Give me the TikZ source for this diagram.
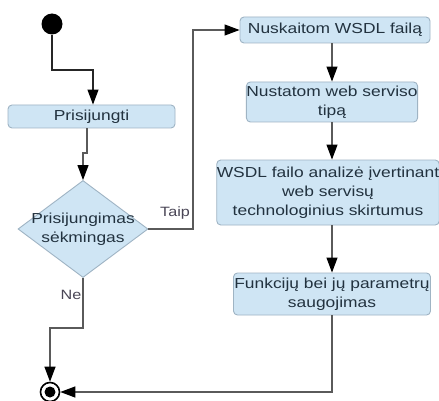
\documentclass[tikz,border=0pt]{standalone}
\usepackage{fontspec}
\setmainfont[FakeStretch=1.2]{Liberation Sans}
\usetikzlibrary{arrows.meta,shapes.geometric}
\definecolor{boxfill}{HTML}{CFE5F4}
\definecolor{boxline}{HTML}{9FB4C4}
\definecolor{txt}{HTML}{22323F}
\definecolor{wire}{HTML}{5A5A5A}
\definecolor{lbl}{HTML}{4A4656}
\begin{document}
\begin{tikzpicture}[x=1pt,y=-1pt,
  every node/.style={font=\fontsize{14.5}{19}\selectfont, text=txt},
  action/.style={draw=boxline, fill=boxfill, rounded corners=4pt, line width=0.9pt,
    align=center, inner sep=0pt},
  decision/.style={diamond, draw=boxline, fill=boxfill, line width=0.9pt, inner sep=0pt},
  flow/.style={draw=wire, line width=1.1pt, -{Triangle[length=15pt,width=11pt,color=black]}},
  guard/.style={text=lbl, font=\fontsize{13.5}{16}\selectfont}]
\useasboundingbox[fill=white] (0,0) rectangle (439,401);

% initial and final states
\node[circle, fill=black, minimum size=21pt, inner sep=0pt] (start) at (52,24) {};
\node[circle, draw=black, fill=white, line width=1.6pt, minimum size=19pt, inner sep=0pt] (end) at (50,392) {};
\fill[black] (end.center) circle (5.5pt);

% left column
\node[action, minimum width=167pt, minimum height=23pt] (login) at (91.5,116.5) {Prisijungti};
\node[decision, minimum width=130pt, minimum height=97pt] (dia) at (83,229) {};
\node[align=center, inner sep=0pt] (diatext) at (dia.center) {Prisijungimas\\sėkmingas};

% right column
\node[action, minimum width=190pt, minimum height=26pt] (n1) at (335,30) {Nuskaitom WSDL failą};
\node[action, minimum width=165pt, minimum height=40pt] (n2) at (332,102) {Nustatom web serviso\\tipą};
\node[action, minimum width=220pt, minimum height=65pt] (n3) at (328,192.5) {WSDL failo analizė įvertinant\\web servisų\\technologinius skirtumus};
\node[action, minimum width=197pt, minimum height=42pt] (n4) at (332,294) {Funkcijų bei jų parametrų\\saugojimas};

% bend points
\coordinate (b1) at (93,70);
\coordinate (b2) at (87,153);
\coordinate (b3) at (193,30);
\coordinate (b4) at (83,328);

% connectors
\draw[flow, draw=black!85] (start) |- (b1) -- (b1 |- login.north);
\draw[flow] (login.south -| b2) -- (b2) -| (dia.north);
\draw[flow] (dia.east) -| (b3) -- (n1.west);
\draw[flow] (n1.south -| n2.north) -- (n2.north);
\draw[flow] (n2.south) -- (n3.north -| n2.south);
\draw[flow] (n3.south -| n4.north) -- (n4.north);
\draw[flow] (n4.south) |- (end.east);
\draw[flow] (dia.south) -- (b4) -| (end.north);

% guards
\node[guard] (taip) at (175,213) {Taip};
\node[guard] (ne) at (71,295) {Ne};
\end{tikzpicture}
\end{document}
